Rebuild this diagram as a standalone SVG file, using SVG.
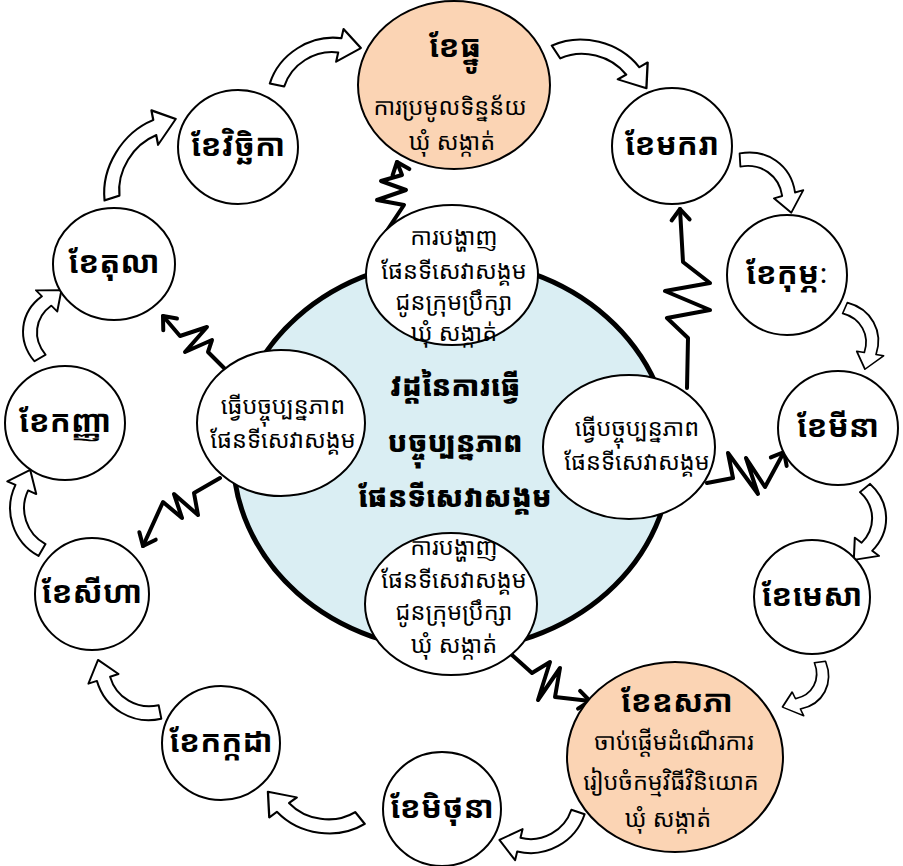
<svg xmlns="http://www.w3.org/2000/svg" width="903" height="866" viewBox="0 0 903 866">
<style>
.t{font-family:'Noto Sans Khmer','Khmer OS Battambang','Khmer OS',Khmer,'Noto Sans',sans-serif;fill:#000;text-anchor:middle}
.m{font-size:31px;font-weight:bold}
.r{font-size:23.5px}
.ti{font-size:28px;font-weight:900}
.mc{fill:#fff;stroke:#000;stroke-width:2}
.pc{fill:#FBD4B4;stroke:#000;stroke-width:2}
.se{fill:#fff;stroke:#000;stroke-width:2}
.ca{fill:#fff;stroke:#000;stroke-width:2;stroke-linejoin:round}
.zz{fill:none;stroke:#000;stroke-width:4;stroke-linejoin:round;stroke-linecap:round}
</style>
<defs>
<path id="carrow" d="M -4.95,-4.95 A 57 57 0 0 1 72.0,-8.30 L 77.78,-15.2 L 82.82,9.92 L 57.22,9.32 L 63.0,2.42 A 43 43 0 0 0 4.95,4.95 Z"/>
<marker id="chev" markerUnits="userSpaceOnUse" markerWidth="30" markerHeight="30" refX="15" refY="15" orient="auto" overflow="visible">
<path d="M 4,6 L 15,15 L 4,24" fill="none" stroke="#000" stroke-width="4" stroke-linecap="round" stroke-linejoin="round"/>
</marker>
</defs>
<rect width="903" height="866" fill="#fff"/>

<g id="center">
<ellipse cx="452" cy="455" rx="219" ry="195" fill="#DAEEF3" stroke="#000" stroke-width="5"/>
<text class="t ti" x="455" y="396">វដ្តនៃការធ្វើ</text>
<text class="t ti" x="455" y="452">បច្ចុប្បន្នភាព</text>
<text class="t ti" x="455" y="507">ផែនទីសេវាសង្គម</text>
</g>

<g id="connectors">
<path class="zz" marker-end="url(#chev)" d="M 386,232 L 404,205 L 377,200 L 406,190 L 381,181 L 402,175 L 397,162"/>
<path class="zz" marker-end="url(#chev)" d="M 687,388 L 688,338 L 667,318 L 710,310 L 665,291 L 710,283 L 683,262 L 680,209"/>
<path class="zz" marker-end="url(#chev)" d="M 228,372 L 208,352 L 212,340 L 185,352 L 207,327 L 180,336 L 163,316"/>
<path class="zz" marker-end="url(#chev)" d="M 220,478 L 194,493 L 198,515 L 174,494 L 182,518 L 163,502 L 143,546"/>
<path class="zz" marker-end="url(#chev)" d="M 707,483 L 733,478 L 728,453 L 758,494 L 746,458 L 765,487 L 784,452"/>
<path class="zz" marker-end="url(#chev)" d="M 512,655 L 532,673 L 550,662 L 538,700 L 560,668 L 555,697 L 590,701"/>
<g class="ca">
<use href="#carrow" vector-effect="non-scaling-stroke" transform="translate(277,85) rotate(-30) scale(1.1,1)"/>
<use href="#carrow" vector-effect="non-scaling-stroke" transform="translate(556,52) rotate(16) scale(1.17,1)"/>
<use href="#carrow" vector-effect="non-scaling-stroke" transform="translate(740,160) rotate(38) scale(0.88,1)"/>
<use href="#carrow" vector-effect="non-scaling-stroke" transform="translate(845,308) rotate(64) scale(0.77,0.9)"/>
<use href="#carrow" vector-effect="non-scaling-stroke" transform="translate(865,488) rotate(91) scale(0.87,1)"/>
<use href="#carrow" vector-effect="non-scaling-stroke" transform="translate(820,662) rotate(121) scale(0.7,0.9)"/>
<use href="#carrow" vector-effect="non-scaling-stroke" transform="translate(578,812) rotate(153.6) scale(1,1)"/>
<use href="#carrow" vector-effect="non-scaling-stroke" transform="translate(360,818) rotate(190) scale(1.15,1)"/>
<use href="#carrow" vector-effect="non-scaling-stroke" transform="translate(160,712) rotate(213) scale(0.97,1)"/>
<use href="#carrow" vector-effect="non-scaling-stroke" transform="translate(42,550) rotate(254.6) scale(0.97,1)"/>
<use href="#carrow" vector-effect="non-scaling-stroke" transform="translate(40,358) rotate(-80.5) scale(0.85,1)"/>
<use href="#carrow" vector-effect="non-scaling-stroke" transform="translate(112,198) rotate(-56.7) scale(1.22,1)"/>
</g>
</g>

<g id="step-top">
<ellipse class="se" cx="452" cy="275" rx="86" ry="70"/>
<text class="t r" x="454" y="245">ការបង្ហាញ</text>
<text class="t r" x="454" y="279">ផែនទីសេវាសង្គម</text>
<text class="t r" x="454" y="310">ជូនក្រុមប្រឹក្សា</text>
<text class="t r" x="454" y="341">ឃុំ សង្កាត់</text>
</g>
<g id="step-left">
<ellipse class="se" cx="281" cy="423" rx="84" ry="73"/>
<text class="t r" x="283" y="414">ធ្វើបច្ចុប្បន្នភាព</text>
<text class="t r" x="283" y="448">ផែនទីសេវាសង្គម</text>
</g>
<g id="step-right">
<ellipse class="se" cx="629" cy="447" rx="86" ry="72"/>
<text class="t r" x="637" y="436">ធ្វើបច្ចុប្បន្នភាព</text>
<text class="t r" x="637" y="470">ផែនទីសេវាសង្គម</text>
</g>
<g id="step-bottom">
<ellipse class="se" cx="451" cy="604" rx="86" ry="71"/>
<text class="t r" x="454" y="555">ការបង្ហាញ</text>
<text class="t r" x="454" y="588">ផែនទីសេវាសង្គម</text>
<text class="t r" x="454" y="620">ជូនក្រុមប្រឹក្សា</text>
<text class="t r" x="454" y="653">ឃុំ សង្កាត់</text>
</g>

<g id="dec">
<ellipse class="pc" cx="454" cy="85" rx="96" ry="84"/>
<text class="t m" x="455" y="57">ខែធ្នូ</text>
<text class="t r" x="450" y="115">ការប្រមូលទិន្នន័យ</text>
<text class="t r" x="452" y="150">ឃុំ សង្កាត់</text>
</g>
<g id="jan"><ellipse class="mc" cx="672" cy="146" rx="60" ry="58"/><text class="t m" x="672" y="155">ខែមករា</text></g>
<g id="feb"><ellipse class="mc" cx="787" cy="275" rx="60" ry="60"/><text class="t m" x="787" y="284">ខែកុម្ភៈ</text></g>
<g id="mar"><ellipse class="mc" cx="838" cy="428" rx="60" ry="57"/><text class="t m" x="838" y="437">ខែមីនា</text></g>
<g id="apr"><ellipse class="mc" cx="812" cy="597" rx="58" ry="57"/><text class="t m" x="812" y="606">ខែមេសា</text></g>
<g id="may">
<ellipse class="pc" cx="675" cy="757" rx="108" ry="95"/>
<text class="t m" x="677" y="712">ខែឧសភា</text>
<text class="t r" x="674" y="750">ចាប់ផ្ដើមដំណើរការ</text>
<text class="t r" x="671" y="790">រៀបចំកម្មវិធីវិនិយោគ</text>
<text class="t r" x="668" y="827">ឃុំ សង្កាត់</text>
</g>
<g id="jun"><ellipse class="mc" cx="442" cy="809" rx="59" ry="57"/><text class="t m" x="442" y="818">ខែមិថុនា</text></g>
<g id="jul"><ellipse class="mc" cx="221" cy="743" rx="59" ry="57"/><text class="t m" x="221" y="752">ខែកក្កដា</text></g>
<g id="aug"><ellipse class="mc" cx="92" cy="594" rx="57" ry="56"/><text class="t m" x="92" y="603">ខែសីហា</text></g>
<g id="sep"><ellipse class="mc" cx="65" cy="423" rx="60" ry="57"/><text class="t m" x="65" y="432">ខែកញ្ញា</text></g>
<g id="oct"><ellipse class="mc" cx="114" cy="264" rx="61" ry="56"/><text class="t m" x="114" y="273">ខែតុលា</text></g>
<g id="nov"><ellipse class="mc" cx="238" cy="147" rx="60" ry="57"/><text class="t m" x="238" y="156">ខែវិច្ឆិកា</text></g>
</svg>
